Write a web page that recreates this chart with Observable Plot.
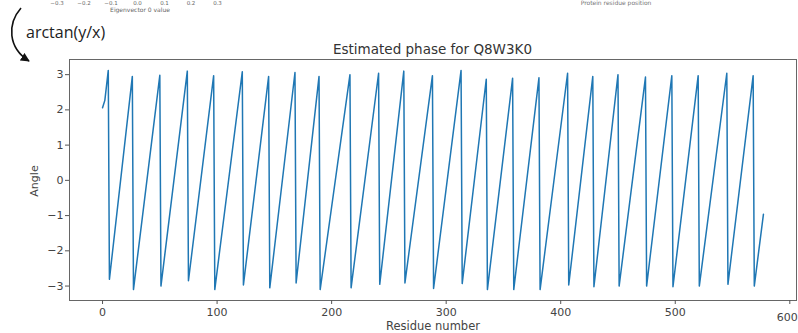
<!DOCTYPE html>
<html>
<head>
<meta charset="utf-8">
<script src="https://cdn.jsdelivr.net/npm/d3@7"></script>
<script src="https://cdn.jsdelivr.net/npm/@observablehq/plot@0.6"></script>
<style>
  html, body { margin: 0; padding: 0; background: #fff; }
  #wrap { position: relative; width: 798px; height: 333px; overflow: hidden; }
  #overlay { position: absolute; left: 0; top: 0; pointer-events: none; }
</style>
</head>
<body>
<div id="wrap"></div>
<script>
// ---- data ----
const startX = [0, 2];
const startY = [2.06, 2.27];
const peakX = [5, 26, 50, 74, 97, 122, 145, 168, 189, 216, 241, 263, 288, 313, 335, 358, 381, 406, 428, 450, 474, 497, 520, 545, 568];
const peakY = [3.12, 2.95, 2.98, 3.10, 2.97, 3.08, 2.95, 3.06, 2.95, 3.00, 3.04, 3.10, 2.97, 3.12, 2.87, 2.90, 2.91, 3.04, 2.95, 3.00, 2.93, 2.97, 2.97, 3.04, 2.97];
const troughX = [6, 27, 51, 75, 98, 123, 146, 169, 190, 217, 242, 264, 289, 314, 336, 359, 382, 407, 429, 451, 475, 498, 521, 546, 569];
const troughY = [-2.81, -3.10, -3.00, -2.85, -3.10, -2.97, -3.05, -2.91, -3.10, -3.05, -2.95, -2.91, -3.07, -2.93, -3.10, -3.10, -3.10, -2.97, -3.02, -3.00, -3.00, -3.02, -3.00, -2.95, -3.00];
const endX = [577];
const endY = [-0.96];
const xTicks = [0, 100, 200, 300, 400, 500, 600];
const yTicks = [-3, -2, -1, 0, 1, 2, 3];
const topTickLabels = ["−0.3", "−0.2", "−0.1", "0.0", "0.1", "0.2", "0.3"];

const series = [];
startX.forEach((x, i) => series.push({x, y: startY[i]}));
peakX.forEach((x, i) => {
  series.push({x, y: peakY[i]});
  series.push({x: troughX[i], y: troughY[i]});
});
endX.forEach((x, i) => series.push({x, y: endY[i]}));

const fmt = d => (d < 0 ? "−" + Math.abs(d) : String(d));
const lastTick = xTicks[xTicks.length - 1];

const chart = Plot.plot({
  width: 798,
  height: 333,
  marginLeft: 69,
  marginRight: 2,
  marginTop: 59,
  marginBottom: 33,
  style: {fontFamily: "DejaVu Sans", fontSize: "11px", color: "#333", background: "transparent"},
  x: {domain: [-28.85, 605.85]},
  y: {domain: [-3.41, 3.43]},
  marks: [
    Plot.line(series, {x: "x", y: "y", stroke: "#1f77b4", strokeWidth: 1.5}),
    Plot.frame({stroke: "#666", strokeWidth: 1}),
    Plot.axisX({ticks: xTicks, tickSize: 4, tickPadding: 4, label: null, stroke: "#555", fill: "#444",
      tickFormat: d => (d === lastTick ? "" : fmt(d))}),
    Plot.text([lastTick], {x: d => d, frameAnchor: "bottom", dy: 20, textAnchor: "end", dx: 8,
      text: d => fmt(d), fill: "#444", fontSize: 11}),
    Plot.axisY({ticks: yTicks, tickSize: 4, tickPadding: 2, label: null, stroke: "#555", fill: "#444", tickFormat: fmt})
  ]
});
document.getElementById("wrap").appendChild(chart);

// ---- annotations drawn around the plot ----
const ns = "http://www.w3.org/2000/svg";
const ov = document.createElementNS(ns, "svg");
ov.setAttribute("id", "overlay");
ov.setAttribute("width", 798);
ov.setAttribute("height", 333);
ov.innerHTML = `
  <defs>
    <marker id="ah" viewBox="0 0 10 10" refX="9" refY="5" markerWidth="9" markerHeight="9" markerUnits="userSpaceOnUse" orient="auto">
      <path d="M0,0 L10,5 L0,10 Z" fill="#111"/>
    </marker>
  </defs>
  <path d="M21,8 C7,24 8,48 29,61" fill="none" stroke="#111" stroke-width="1.6" marker-end="url(#ah)"/>
  <text x="26" y="38" font-family="Open Sans" font-size="16" fill="#222">arctan(y/x)</text>
  <text x="432.5" y="54" text-anchor="middle" font-family="DejaVu Sans" font-size="13.5" fill="#333">Estimated phase for Q8W3K0</text>
  <text x="433" y="330" text-anchor="middle" font-family="DejaVu Sans" font-size="11.5" fill="#444">Residue number</text>
  <text transform="translate(38,181) rotate(-90)" text-anchor="middle" font-family="DejaVu Sans" font-size="11" fill="#444">Angle</text>
  <text x="140" y="12" text-anchor="middle" font-family="DejaVu Sans" font-size="6" fill="#666">Eigenvector 0 value</text>
  <text x="616" y="5" text-anchor="middle" font-family="DejaVu Sans" font-size="6" fill="#777">Protein residue position</text>
`;
const topX = [57, 84, 111, 137.5, 164.5, 191, 217.5];
topTickLabels.forEach((t, i) => {
  const el = document.createElementNS(ns, "text");
  el.setAttribute("x", topX[i]);
  el.setAttribute("y", 5);
  el.setAttribute("text-anchor", "middle");
  el.setAttribute("font-family", "DejaVu Sans");
  el.setAttribute("font-size", "5.5");
  el.setAttribute("fill", "#666");
  el.textContent = t;
  ov.appendChild(el);
});
document.getElementById("wrap").appendChild(ov);
</script>
</body>
</html>
